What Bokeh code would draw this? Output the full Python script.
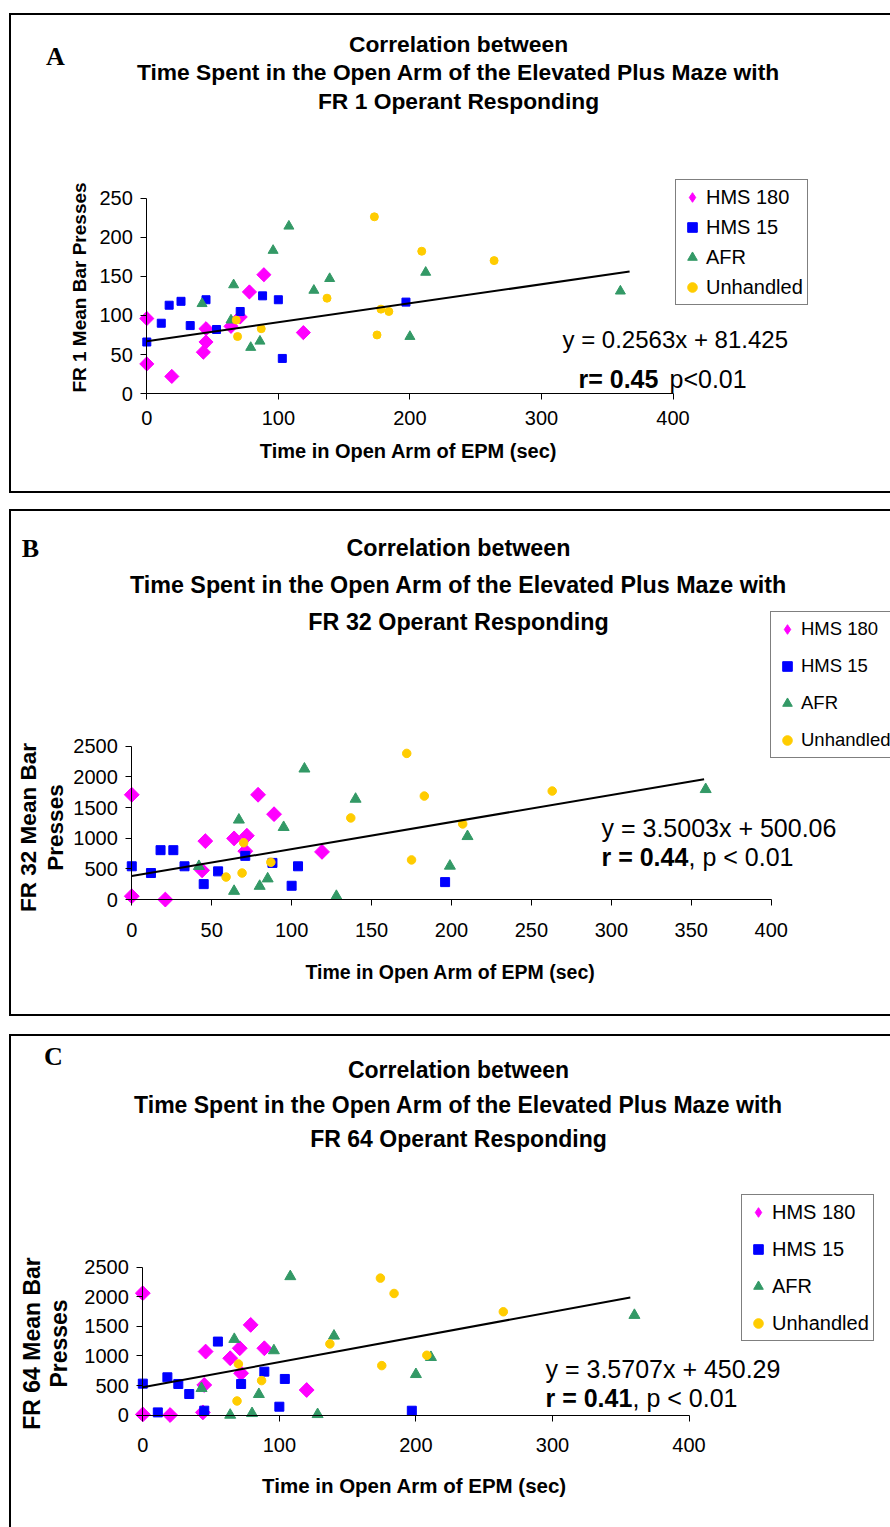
import math
from bokeh.plotting import figure
from bokeh.models import Range1d, FixedTicker, Label, Legend, LegendItem
from bokeh.layouts import column
from bokeh.embed import file_html
from bokeh.resources import INLINE

# ---------------- data ----------------
series_names = ["HMS 180", "HMS 15", "AFR", "Unhandled"]

# Panel A : FR 1
a_hms180_x = [0, 0, 19, 45, 45, 43, 64, 71, 78, 89, 119]
a_hms180_y = [96, 38, 22, 83, 66, 53, 86, 98, 130, 152, 78]
a_hms15_x = [0, 11, 17, 26, 33, 45, 53, 71, 88, 100, 103, 197]
a_hms15_y = [66, 90, 113, 118, 87, 120, 82, 105, 125, 120, 45, 117]
a_afr_x = [42, 64, 66, 79, 86, 96, 108, 127, 139, 200, 212, 360]
a_afr_y = [115, 94, 139, 59, 67, 183, 214, 132, 147, 73, 155, 131]
a_unh_x = [68, 69, 87, 137, 173, 175, 178, 184, 209, 264]
a_unh_y = [94, 73, 83, 122, 226, 75, 108, 105, 182, 170]
a_trend_x = [0, 367]
a_trend_y = [67, 156]
a_xticks = [0, 100, 200, 300, 400]
a_yticks = [0, 50, 100, 150, 200, 250]

# Panel B : FR 32
b_hms180_x = [0, 0, 21, 46, 44, 64, 72, 71, 79, 89, 119]
b_hms180_y = [1710, 55, 0, 954, 477, 998, 1042, 790, 1710, 1393, 778]
b_hms15_x = [0, 12, 18, 26, 33, 45, 54, 71, 88, 100, 104, 196]
b_hms15_y = [543, 433, 806, 806, 543, 252, 460, 713, 598, 225, 543, 285]
b_afr_x = [42, 64, 67, 80, 85, 95, 108, 128, 140, 199, 210, 359]
b_afr_y = [543, 137, 1300, 219, 340, 1179, 2133, 55, 1640, 548, 1031, 1798]
b_unh_x = [59, 69, 70, 87, 137, 172, 175, 183, 207, 263]
b_unh_y = [367, 433, 927, 609, 1332, 2385, 647, 1689, 1234, 1771]
b_trend_x = [0, 358]
b_trend_y = [383, 1962]
b_xticks = [0, 50, 100, 150, 200, 250, 300, 350, 400]
b_yticks = [0, 500, 1000, 1500, 2000, 2500]

# Panel C : FR 64
c_hms180_x = [0, 0, 20, 44, 45, 46, 64, 71, 72, 79, 89, 120]
c_hms180_y = [2064, 11, 0, 45, 509, 1075, 962, 1131, 707, 1527, 1131, 424]
c_hms15_x = [0, 11, 18, 26, 34, 45, 55, 72, 89, 100, 104, 197]
c_hms15_y = [532, 45, 639, 526, 356, 74, 1244, 526, 735, 141, 611, 73]
c_afr_x = [43, 64, 67, 80, 85, 96, 108, 128, 140, 200, 211, 360]
c_afr_y = [452, 0, 1284, 28, 351, 1092, 2347, 11, 1340, 689, 978, 1691]
c_unh_x = [69, 70, 87, 137, 174, 175, 184, 208, 264]
c_unh_y = [238, 865, 583, 1205, 2319, 837, 2059, 1012, 1749]
c_trend_x = [0, 357]
c_trend_y = [469, 1992]
c_xticks = [0, 100, 200, 300, 400]
c_yticks = [0, 500, 1000, 1500, 2000, 2500]

a_title = ["Correlation between",
           "Time Spent in the Open Arm of the Elevated Plus Maze with",
           "FR 1 Operant Responding"]
b_title = ["Correlation between",
           "Time Spent in the Open Arm of the Elevated Plus Maze with",
           "FR 32 Operant Responding"]
c_title = ["Correlation between",
           "Time Spent in the Open Arm of the Elevated Plus Maze with",
           "FR 64 Operant Responding"]
x_label = "Time in Open Arm of EPM (sec)"

# ---------------- styling ----------------
COLORS = ["#FF00FF", "#0000FF", "#339966", "#FFCC00"]
SANS = "Liberation Sans"
SERIF = "Liberation Serif"
DY = 4   # middle-baseline correction


def make_panel(cx, cy, cw, ch, x0px, x1px, y0px, y1px, xmax, ymax, xticks, yticks,
               tick_size, x_standoff, margin, borders):
    # the frame covers the whole canvas; axes are drawn at x=0 / y=0
    sx = (x1px - x0px) / xmax
    sy = (y0px - y1px) / ymax
    xs = -(x0px - cx) / sx
    ys = -(cy + ch - y0px) / sy
    styles = {f"border-{s}": "2px solid black" for s in borders}
    bw = 2 if "left" in borders else 0
    bh = 2 * sum(s in borders for s in ("top", "bottom"))
    p = figure(width=cw + bw, height=ch + bh,
               x_range=Range1d(xs, xs + cw / sx),
               y_range=Range1d(ys, ys + ch / sy),
               min_border=0, min_border_left=0, min_border_right=0,
               min_border_top=0, min_border_bottom=0,
               output_backend="svg", toolbar_location=None,
               margin=margin, styles=styles)
    p.outline_line_color = None
    p.xgrid.visible = False
    p.ygrid.visible = False
    p.background_fill_color = "white"
    p.border_fill_color = "white"
    for ax, ticks, bnd, so in ((p.xaxis[0], xticks, (0, xmax), x_standoff),
                               (p.yaxis[0], yticks, (0, ymax), 8)):
        ax.fixed_location = 0
        ax.bounds = bnd
        ax.ticker = FixedTicker(ticks=ticks)
        ax.minor_tick_line_color = None
        ax.major_tick_in = 0
        ax.major_tick_out = 6
        ax.axis_line_color = "black"
        ax.major_tick_line_color = "black"
        ax.major_label_text_font = SANS
        ax.major_label_text_font_size = f"{tick_size}px"
        ax.major_label_text_color = "black"
        ax.major_label_standoff = so
    return p, cx, cy + ch


def add_text(p, fl, fb, text, px, py, size, font=SANS, bold=False, align="left",
             angle=0.0):
    if angle:
        px -= 2
    else:
        py -= DY
    p.add_layout(Label(x=px - fl, y=fb - py, x_units="screen", y_units="screen",
                       text=text, text_font=font, text_font_size=f"{size}px",
                       text_font_style="bold" if bold else "normal",
                       text_align=align, text_baseline="middle", angle=angle,
                       text_color="black"))


def add_series(p, xs, ys, sizes, trend_x, trend_y):
    # legend proxy for the diamonds (hidden under the rotated squares)
    proxy = p.scatter(xs[0], ys[0], marker="diamond", size=sizes[0] * 1.3,
                      fill_color=COLORS[0], line_color=COLORS[0])
    markers = [("square", math.pi / 4), ("square", 0.0), ("triangle", 0.0), ("circle", 0.0)]
    rends = []
    for (mk, ang), x, y, c, s in zip(markers, xs, ys, COLORS, sizes):
        r = p.scatter(x, y, marker=mk, angle=ang, size=s, fill_color=c, line_color=c)
        rends.append(r)
    p.line(trend_x, trend_y, line_color="black", line_width=2)
    rends[0] = proxy
    return rends


def add_legend(p, fl, fb, rends, left_px, bottom_px, size, spacing):
    items = [LegendItem(label=n, renderers=[r]) for n, r in zip(series_names, rends)]
    lg = Legend(items=items, location=(left_px - fl, fb - bottom_px),
                padding=4, spacing=spacing, glyph_width=24, glyph_height=26,
                label_height=26, label_standoff=2, margin=0,
                label_text_font=SANS, label_text_font_size=f"{size}px",
                label_text_color="black",
                border_line_color="black", border_line_width=1,
                background_fill_color="white", background_fill_alpha=1.0)
    p.add_layout(lg)


# ---------------- Panel A ----------------
pA, flA, fbA = make_panel(11, 15, 879, 476, 146, 671, 390, 196, 400, 250,
                          a_xticks, a_yticks, 20, 11, (13, 0, 0, 9),
                          ["left", "top", "bottom"])
rA = add_series(pA, [a_hms180_x, a_hms15_x, a_afr_x, a_unh_x],
                [a_hms180_y, a_hms15_y, a_afr_y, a_unh_y], [10, 8, 10, 8],
                a_trend_x, a_trend_y)
add_legend(pA, flA, fbA, rA, 675, 301, 20, 4)
add_text(pA, flA, fbA, "A", 55, 56, 26, SERIF, True, "center")
for t, yy in zip(a_title, [43, 71, 100]):
    add_text(pA, flA, fbA, t, 458, yy, 22.8, SANS, True, "center")
add_text(pA, flA, fbA, x_label, 408, 450, 20, SANS, True, "center")
add_text(pA, flA, fbA, "FR 1 Mean Bar Presses", 81, 283, 19, SANS, True, "center",
         angle=math.pi / 2)
add_text(pA, flA, fbA, "y = 0.2563x + 81.425", 562, 339, 24)
add_text(pA, flA, fbA, "r= 0.45", 578, 378, 25, SANS, True)
add_text(pA, flA, fbA, "p<0.01", 669, 378, 25)

# ---------------- Panel B ----------------
pB, flB, fbB = make_panel(11, 511, 879, 503, 131, 769, 896, 744, 400, 2500,
                          b_xticks, b_yticks, 20, 17, (16, 0, 0, 9),
                          ["left", "top", "bottom"])
rB = add_series(pB, [b_hms180_x, b_hms15_x, b_afr_x, b_unh_x],
                [b_hms180_y, b_hms15_y, b_afr_y, b_unh_y], [10.5, 9, 11, 8.5],
                b_trend_x, b_trend_y)
add_legend(pB, flB, fbB, rB, 770, 754, 18.5, 11)
add_text(pB, flB, fbB, "B", 30, 548, 26, SERIF, True, "center")
for t, yy in zip(b_title, [547, 584, 621]):
    add_text(pB, flB, fbB, t, 458, yy, 23.3, SANS, True, "center")
add_text(pB, flB, fbB, x_label, 450, 971, 19.5, SANS, True, "center")
add_text(pB, flB, fbB, "FR 32 Mean Bar", 30, 823, 22.5, SANS, True, "center", angle=math.pi / 2)
add_text(pB, flB, fbB, "Presses", 57, 823, 22.5, SANS, True, "center", angle=math.pi / 2)
add_text(pB, flB, fbB, "y = 3.5003x + 500.06", 601, 827, 25)
add_text(pB, flB, fbB, "r = 0.44", 601, 856, 25, SANS, True)
add_text(pB, flB, fbB, ", p < 0.01", 688, 856, 25)

# ---------------- Panel C ----------------
pC, flC, fbC = make_panel(11, 1036, 879, 491, 142, 687, 1413, 1266, 400, 2500,
                          c_xticks, c_yticks, 20, 17, (18, 0, 0, 9),
                          ["left", "top"])
rC = add_series(pC, [c_hms180_x, c_hms15_x, c_afr_x, c_unh_x],
                [c_hms180_y, c_hms15_y, c_afr_y, c_unh_y], [10.5, 9, 11, 8.5],
                c_trend_x, c_trend_y)
add_legend(pC, flC, fbC, rC, 741, 1339, 20, 11)
add_text(pC, flC, fbC, "C", 53, 1058, 26, SERIF, True, "center")
for t, yy in zip(c_title, [1071, 1106, 1140]):
    add_text(pC, flC, fbC, t, 458, yy, 23, SANS, True, "center")
add_text(pC, flC, fbC, x_label, 414, 1487, 20.5, SANS, True, "center")
add_text(pC, flC, fbC, "FR 64 Mean Bar", 33, 1341, 23, SANS, True, "center", angle=math.pi / 2)
add_text(pC, flC, fbC, "Presses", 60, 1341, 23, SANS, True, "center", angle=math.pi / 2)
add_text(pC, flC, fbC, "y = 3.5707x + 450.29", 545, 1370, 25)
add_text(pC, flC, fbC, "r = 0.41", 545, 1399, 25, SANS, True)
add_text(pC, flC, fbC, ", p < 0.01", 632, 1399, 25)

layout = column(pA, pB, pC)
open("out.html", "w").write(file_html(layout, INLINE))
